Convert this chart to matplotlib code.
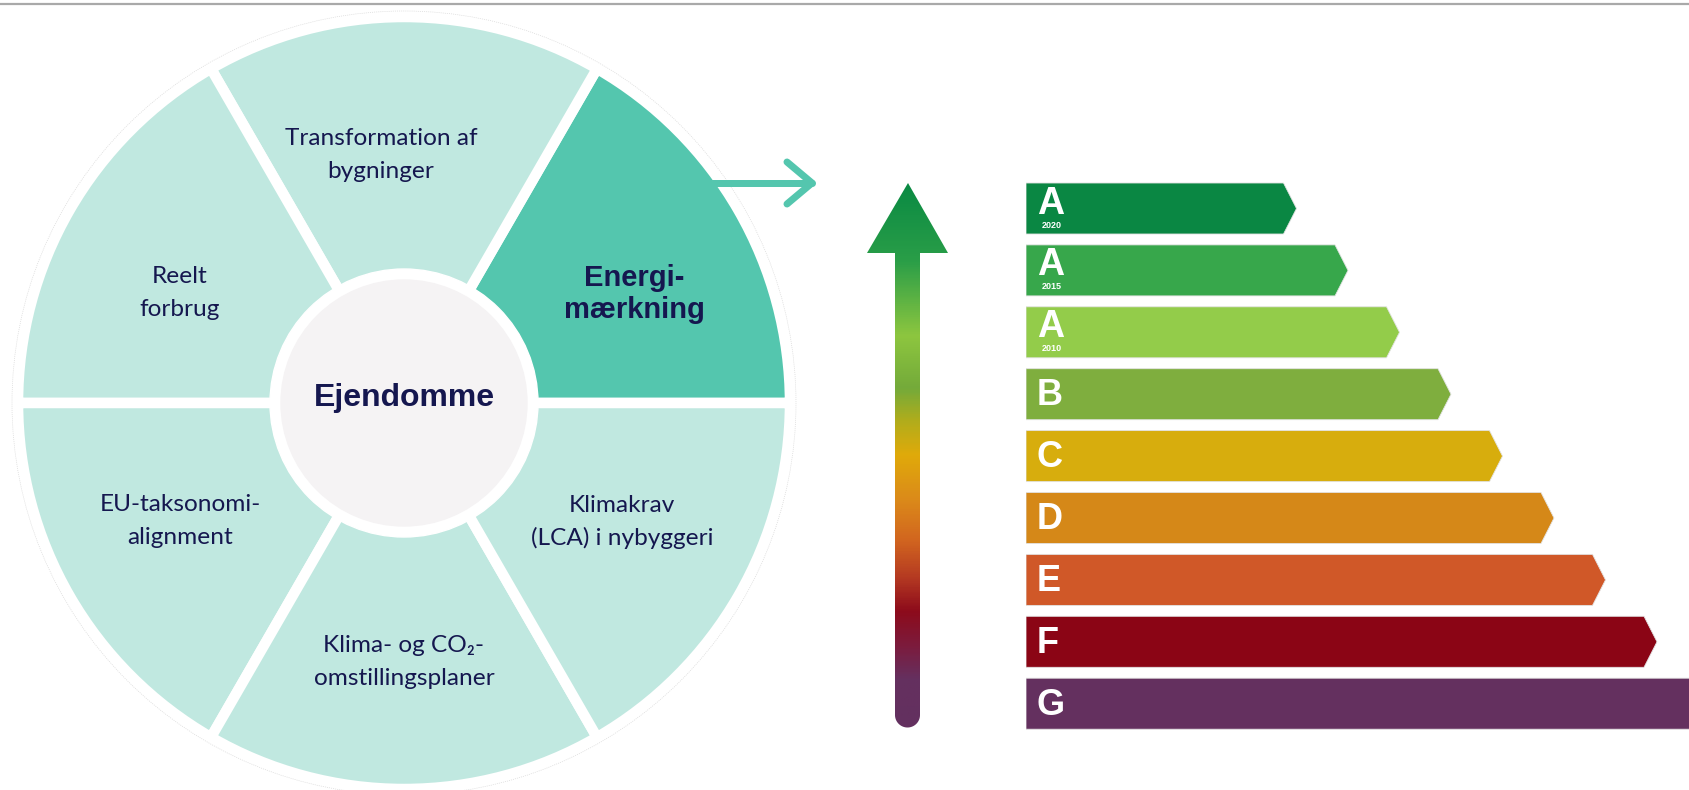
import numpy as np
import matplotlib
matplotlib.use('Agg')
import matplotlib.pyplot as plt
from matplotlib.patches import Circle, PathPatch
from matplotlib.path import Path
from matplotlib.colors import LinearSegmentedColormap

# ---------------- data ----------------
wheel_labels = ['Energi-\nmærkning', 'Transformation af\nbygninger', 'Reelt\nforbrug',
                'EU-taksonomi-\nalignment', 'Klima- og CO₂-\nomstillingsplaner',
                'Klimakrav\n(LCA) i nybyggeri']
wheel_shares = [1, 1, 1, 1, 1, 1]
wheel_highlight = [True, False, False, False, False, False]
center_label = 'Ejendomme'

classes = ['A', 'A', 'A', 'B', 'C', 'D', 'E', 'F', 'G']
class_years = ['2020', '2015', '2010', '', '', '', '', '', '']
class_lengths = [5, 6, 7, 8, 9, 10, 11, 12, 13]
class_colors = ['#0a8743', '#37a74b', '#93cc4a', '#7fae3e', '#d7ad0d',
                '#d58818', '#d05828', '#8b0515', '#64305f']

# ---------------- style / layout ----------------
W, H = 1690, 790
PT = 0.72  # points per pixel at dpi 100
NAVY = '#15174f'
LIGHT = '#c0e8e0'
HIGHLIGHT = '#54c6ae'
REG_FONT = ['Lato', 'DejaVu Sans']
BOLD_FONT = ['Liberation Sans', 'DejaVu Sans']

fig = plt.figure(figsize=(W / 100, H / 100), dpi=100)
fig.patch.set_facecolor('white')

bg = fig.add_axes([0, 0, 1, 1])
bg.set_xlim(0, W)
bg.set_ylim(H, 0)
bg.axis('off')

# top rule
bg.plot([0, W], [4, 4], color='#a9a9a9', lw=1.6, zorder=1)

# ---------------- wheel ----------------
cx, cy = 404, 403
ax_p = fig.add_axes([(cx - 400) / W, (H - cy - 400) / H, 800 / W, 800 / H])
cols = [HIGHLIGHT if h else LIGHT for h in wheel_highlight]
ax_p.pie(wheel_shares, radius=386, startangle=0, counterclock=True, colors=cols,
         wedgeprops=dict(edgecolor='white', linewidth=10.5 * PT))
ax_p.set_xlim(-400, 400)
ax_p.set_ylim(-400, 400)
ax_p.set_aspect('equal')
ax_p.axis('off')
ring = Circle((0, 0), 392, fill=False, edgecolor='#dadada', lw=0.5, ls=(0, (1.5, 1.5)), clip_on=False)
ax_p.add_patch(ring)
ax_p.add_patch(Circle((0, 0), 134, color='white', zorder=3))
ax_p.add_patch(Circle((0, 0), 123, color='#f5f3f4', zorder=4))
ax_p.text(0, 5, center_label, ha='center', va='center', fontsize=23, fontweight='bold',
          family=BOLD_FONT, color=NAVY, zorder=5)

# overlay for labels and the teal pointer
ov = fig.add_axes([0, 0, 1, 1])
ov.set_xlim(0, W)
ov.set_ylim(H, 0)
ov.axis('off')
ov.patch.set_alpha(0)

label_pos = [(634, 294), (381, 155), (180, 293), (180, 521), (404, 662), (622, 522)]
for lab, (x, y), hl in zip(wheel_labels, label_pos, wheel_highlight):
    if hl:
        ov.text(x, y, lab, ha='center', va='center', fontsize=21, fontweight='bold',
                family=BOLD_FONT, color=NAVY, linespacing=1.22, zorder=6)
    else:
        ov.text(x, y, lab, ha='center', va='center', fontsize=17.6,
                family=REG_FONT, color=NAVY, linespacing=1.65, zorder=6)

ov.plot([712, 812], [183, 183], color=HIGHLIGHT, lw=7 * PT, solid_capstyle='round', zorder=6)
ov.plot([787, 812, 787], [162, 183, 204], color=HIGHLIGHT, lw=7 * PT,
        solid_capstyle='round', solid_joinstyle='round', zorder=6)

# ---------------- gradient arrow ----------------
stops = [(183, '#0a8a43'), (260, '#2a9e48'), (335, '#8dc63f'), (388, '#74aa3a'),
         (420, '#b0ad1c'), (455, '#e0aa0a'), (500, '#db8a1a'), (540, '#d2661f'),
         (578, '#b53a22'), (612, '#8d0b1b'), (650, '#7a1d40'), (680, '#65305f'),
         (735, '#63305f')]
y0g, y1g = 180, 735
cmap = LinearSegmentedColormap.from_list(
    'energy', [(min(max((y - y0g) / (y1g - y0g), 0), 1), c)
               for y, c in [(y0g, stops[0][1])] + stops[:-1] + [(y1g, stops[-1][1])]])
grad = np.linspace(0, 1, 600).reshape(-1, 1)
im = ov.imshow(grad, cmap=cmap, aspect='auto', extent=[860, 955, y1g, y0g],
               origin='upper', zorder=5, interpolation='bilinear')
th = np.linspace(0, np.pi, 40)
verts = [(908, 183), (948, 253), (920, 253), (920, 715)]
verts += [(907.5 + 12.5 * np.cos(t), 715 + 12.5 * np.sin(t)) for t in th]
verts += [(895, 715), (895, 253), (867, 253), (908, 183)]
clip = PathPatch(Path(verts), facecolor='none', edgecolor='none', transform=ov.transData)
ov.add_patch(clip)
im.set_clip_path(clip)
ov.set_xlim(0, W)
ov.set_ylim(H, 0)

# ---------------- energy label bars ----------------
px_unit = 51.5
pitch = 61.9
top_center = 208.5
ax_b = fig.add_axes([1026 / W, (H - (top_center + 8.5 * pitch)) / H,
                     (W - 1026) / W, 9 * pitch / H])
ax_b.set_xlim(0, (W - 1026) / px_unit)
ax_b.set_ylim(8.5, -0.5)
ax_b.axis('off')
h = 51 / pitch
tip = 13 / px_unit
for i, (v, c) in enumerate(zip(class_lengths, class_colors)):
    xs = [0, v, v + tip, v, 0]
    ys = [i - h / 2, i - h / 2, i, i + h / 2, i + h / 2]
    ax_b.fill(xs, ys, color=c, ec='#e2e2e2', lw=0.6, zorder=2)
for i, (lab, yr) in enumerate(zip(classes, class_years)):
    if yr:
        ax_b.text(11 / px_unit, i - 5 / pitch, lab, ha='left', va='center', fontsize=27,
                  fontweight='bold', family=BOLD_FONT, color='white', zorder=3)
        ax_b.text(26 / px_unit, i + 16.5 / pitch, yr, ha='center', va='center', fontsize=6.5,
                  fontweight='bold', family=BOLD_FONT, color='white', zorder=3)
    else:
        ax_b.text(11 / px_unit, i + 1.5 / pitch, lab, ha='left', va='center', fontsize=26,
                  fontweight='bold', family=BOLD_FONT, color='white', zorder=3)

fig.savefig('out.png', dpi=100, facecolor='white')
